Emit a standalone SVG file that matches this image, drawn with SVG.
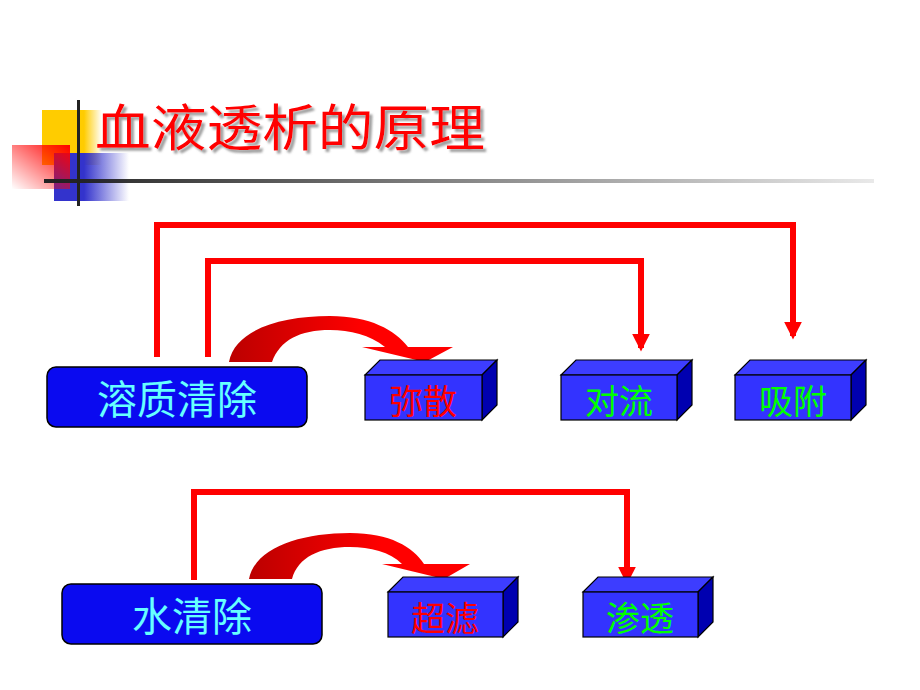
<svg xmlns="http://www.w3.org/2000/svg" width="920" height="690" viewBox="0 0 920 690">
<style>
.ln{fill:none;stroke:#ff0000;stroke-width:6}
.fr{fill:#3333ff;stroke:#000;stroke-width:1.2}
.tp{fill:#3d3dff;stroke:#000;stroke-width:1.2}
.sd{fill:#0000b0;stroke:#000;stroke-width:1.2}
.rb{fill:#0a0af0;stroke:#000;stroke-width:1.5}
.t{font-family:"Noto Sans CJK SC",sans-serif;text-anchor:middle}
</style>
<defs>
<filter id="sh" x="-5%" y="-20%" width="110%" height="140%"><feDropShadow dx="3" dy="3" stdDeviation="1" flood-color="#888" flood-opacity="0.8"/></filter>
<marker id="ah" viewBox="0 0 10 10" refX="8" refY="5" markerWidth="3" markerHeight="4" orient="auto" markerUnits="strokeWidth"><path d="M0,0L10,5L0,10z" fill="#ff0000"/></marker>
<linearGradient id="gy" x1="0" x2="1"><stop offset="0.7" stop-color="#ffcc00"/><stop offset="1" stop-color="#ffcc00" stop-opacity="0"/></linearGradient>
<linearGradient id="gb" x1="0" x2="1"><stop offset="0.4" stop-color="#3333cc"/><stop offset="1" stop-color="#3333cc" stop-opacity="0"/></linearGradient>
<linearGradient id="gr" x1="1" y1="0" x2="0" y2="1"><stop offset="0" stop-color="#ff0000"/><stop offset="1" stop-color="#ff0000" stop-opacity="0"/></linearGradient>
<linearGradient id="gl" x1="0" x2="1"><stop offset="0" stop-color="#222"/><stop offset="1" stop-color="#222" stop-opacity="0.1"/></linearGradient>
<linearGradient id="ga" x1="0" x2="1"><stop offset="0" stop-color="#bb0000"/><stop offset="0.6" stop-color="#ff0000"/></linearGradient>
</defs>
<g id="deco">
<rect x="42" y="110" width="60" height="55" fill="url(#gy)"/>
<rect x="54" y="153" width="75" height="48" fill="url(#gb)"/>
<rect x="12" y="145" width="58" height="44" fill="url(#gr)"/>
<rect x="44" y="179" width="830" height="4" fill="url(#gl)"/>
<rect x="77" y="100" width="3" height="106" fill="#222"/>
</g>
<g id="title">
<text x="95" y="146" font-size="50" fill="#ff0000" font-family="Noto Sans CJK SC,sans-serif" textLength="390" lengthAdjust="spacingAndGlyphs" filter="url(#sh)">血液透析的原理</text>
</g>
<g id="connectors">
<path class="ln" d="M157,357V225H793V336" marker-end="url(#ah)"/>
<path class="ln" d="M208,357V261H641V348" marker-end="url(#ah)"/>
<path class="ln" d="M194,580V492H627V581" marker-end="url(#ah)"/>
<path fill="url(#ga)" d="M229,362C235,330 280,316 330,316C370,316 395,330 408,347H453L425,362L362,347H385C370,335 350,330 330,330C300,330 280,340 272,362Z"/>
<path fill="url(#ga)" d="M249,579C255,548 300,533 350,533C390,533 413,547 424,564H470L444,579L382,564H402C390,552 370,547 350,547C320,547 298,557 292,579Z"/>
</g>
<g id="n1"><rect class="rb" x="47" y="367" width="260" height="60" rx="9"/><text class="t" x="177" y="414" font-size="40" fill="#66ffff">溶质清除</text></g>
<g id="n2"><rect class="rb" x="62" y="584" width="260" height="60" rx="9"/><text class="t" x="192" y="631" font-size="40" fill="#66ffff">水清除</text></g>
<g id="b1"><path class="tp" d="M365,375L380,360H497L482,375Z"/><path class="sd" d="M482,375L497,360V405L482,420Z"/><rect class="fr" x="365" y="375" width="117" height="45"/><text class="t" x="423" y="414" font-size="34" fill="#ff0000">弥散</text></g>
<g id="b2"><path class="tp" d="M561,375L576,360H692L677,375Z"/><path class="sd" d="M677,375L692,360V405L677,420Z"/><rect class="fr" x="561" y="375" width="116" height="45"/><text class="t" x="619" y="414" font-size="34" fill="#00ff00">对流</text></g>
<g id="b3"><path class="tp" d="M735,375L750,360H866L851,375Z"/><path class="sd" d="M851,375L866,360V405L851,420Z"/><rect class="fr" x="735" y="375" width="116" height="45"/><text class="t" x="793" y="414" font-size="34" fill="#00ff00">吸附</text></g>
<g id="b4"><path class="tp" d="M388,592L403,577H518L503,592Z"/><path class="sd" d="M503,592L518,577V622L503,637Z"/><rect class="fr" x="388" y="592" width="115" height="45"/><text class="t" x="445" y="631" font-size="34" fill="#ff0000">超滤</text></g>
<g id="b5"><path class="tp" d="M583,592L598,577H713L698,592Z"/><path class="sd" d="M698,592L713,577V622L698,637Z"/><rect class="fr" x="583" y="592" width="115" height="45"/><text class="t" x="640" y="631" font-size="34" fill="#00ff00">渗透</text></g>
</svg>
